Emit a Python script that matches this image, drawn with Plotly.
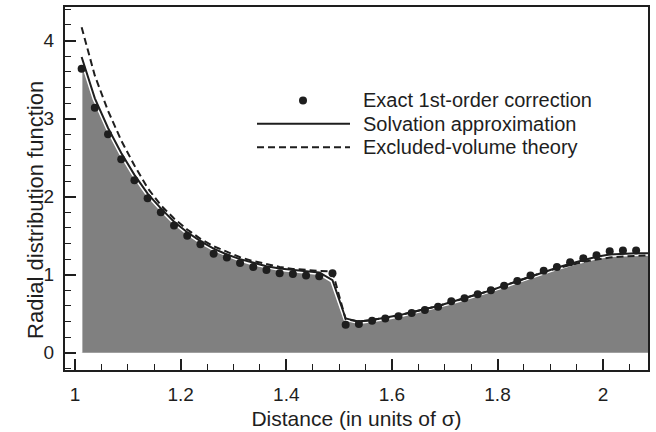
import plotly.graph_objects as go

# ---- data ----
distance = [1.0125, 1.0375, 1.0625, 1.0875, 1.1125, 1.1375, 1.1625, 1.1875, 1.2125, 1.2375,
            1.2625, 1.2875, 1.3125, 1.3375, 1.3625, 1.3875, 1.4125, 1.4375, 1.4625, 1.4875,
            1.5125, 1.5375, 1.5625, 1.5875, 1.6125, 1.6375, 1.6625, 1.6875, 1.7125, 1.7375,
            1.7625, 1.7875, 1.8125, 1.8375, 1.8625, 1.8875, 1.9125, 1.9375, 1.9625, 1.9875,
            2.0125, 2.0375, 2.0625]

exact = [3.64, 3.14, 2.80, 2.48, 2.21, 1.98, 1.80, 1.63, 1.50, 1.39,
         1.27, 1.22, 1.15, 1.10, 1.06, 1.02, 1.01, 0.99, 0.98, 1.02,
         0.36, 0.37, 0.41, 0.44, 0.47, 0.51, 0.55, 0.59, 0.66, 0.70,
         0.75, 0.80, 0.86, 0.92, 0.99, 1.05, 1.10, 1.16, 1.21, 1.25,
         1.30, 1.31, 1.31]

line_distance = distance + [2.0875]

solvation = [3.79, 3.26, 2.88, 2.56, 2.28, 2.04, 1.85, 1.68, 1.545, 1.43,
             1.335, 1.26, 1.20, 1.15, 1.11, 1.08, 1.06, 1.045, 1.03, 0.93,
             0.44, 0.40, 0.42, 0.45, 0.48, 0.52, 0.56, 0.60, 0.65, 0.70,
             0.75, 0.80, 0.86, 0.92, 0.98, 1.04, 1.09, 1.14, 1.19, 1.23,
             1.26, 1.27, 1.275, 1.275]

excluded = [4.17, 3.55, 3.10, 2.72, 2.40, 2.11, 1.89, 1.72, 1.58, 1.46,
            1.365, 1.29, 1.225, 1.175, 1.135, 1.10, 1.075, 1.06, 1.05, 1.04,
            0.43, 0.40, 0.42, 0.45, 0.48, 0.52, 0.56, 0.60, 0.65, 0.70,
            0.75, 0.80, 0.86, 0.92, 0.98, 1.035, 1.08, 1.125, 1.165, 1.195,
            1.22, 1.235, 1.245, 1.25]

legend_labels = ["Exact 1st-order correction", "Solvation approximation", "Excluded-volume theory"]
x_title = "Distance (in units of σ)"
y_title = "Radial distribution function"

FONT = "Liberation Sans, Arial, Helvetica, sans-serif"
INK = "#1e1e1e"

fig = go.Figure()

# grey area under the solvation curve
fill_x = [line_distance[0]] + line_distance + [line_distance[-1]]
fill_y = [0] + solvation + [0]
fig.add_trace(go.Scatter(x=fill_x, y=fill_y, mode="lines", fill="toself",
                         fillcolor="#808080", line=dict(color="white", width=1.5),
                         hoverinfo="skip", showlegend=False))
# white halo under the solid curve
fig.add_trace(go.Scatter(x=line_distance, y=solvation, mode="lines",
                         line=dict(color="white", width=5), hoverinfo="skip", showlegend=False))
fig.add_trace(go.Scatter(x=line_distance, y=excluded, mode="lines", name=legend_labels[2],
                         line=dict(color=INK, width=2, dash="7px,4px"), showlegend=False))
fig.add_trace(go.Scatter(x=line_distance, y=solvation, mode="lines", name=legend_labels[1],
                         line=dict(color=INK, width=2), showlegend=False))
fig.add_trace(go.Scatter(x=distance, y=exact, mode="markers", name=legend_labels[0],
                         marker=dict(color=INK, size=8), showlegend=False))

# ---- hand-built legend (paper coordinates) ----
L, R, T, B = 65, 648, 5, 370
def px(xp):
    return (xp - L) / (R - L)
def py(yp):
    return (B - yp) / (B - T)

rows_y = [99, 122.5, 146]
for lab, yy in zip(legend_labels, rows_y):
    fig.add_annotation(x=px(361), y=py(yy), xref="paper", yref="paper", text=lab,
                       showarrow=False, xanchor="left", yanchor="middle",
                       font=dict(family=FONT, size=20, color=INK))
fig.add_shape(type="circle", xref="paper", yref="paper", xsizemode="pixel", ysizemode="pixel",
              xanchor=px(303), yanchor=py(rows_y[0]), x0=-4, x1=4, y0=-4, y1=4,
              fillcolor=INK, line=dict(width=0))
fig.add_shape(type="line", xref="paper", yref="paper", x0=px(257), x1=px(350),
              y0=py(rows_y[1]), y1=py(rows_y[1]), line=dict(color=INK, width=2))
fig.add_shape(type="line", xref="paper", yref="paper", x0=px(257), x1=px(350),
              y0=py(rows_y[2]), y1=py(rows_y[2]), line=dict(color=INK, width=2, dash="7px,4px"))

# y-axis title placed as annotation to match reference position
fig.add_annotation(x=px(36), y=py(209), xref="paper", yref="paper", text=y_title,
                   showarrow=False, textangle=-90, xanchor="center", yanchor="middle",
                   font=dict(family=FONT, size=22, color=INK))

axis_common = dict(showgrid=False, zeroline=False, showline=True, linecolor=INK, linewidth=2,
                   mirror=True, ticks="inside", ticklen=11, tickwidth=1.5, tickcolor=INK,
                   tickfont=dict(family=FONT, size=19, color=INK))

fig.update_xaxes(range=[0.981, 2.085], tick0=1, dtick=0.2,
                 minor=dict(tick0=1, dtick=0.05, ticks="inside", ticklen=6, tickwidth=1.2, tickcolor=INK),
                 title=dict(text=x_title, font=dict(family=FONT, size=21, color=INK), standoff=8),
                 ticklabelstandoff=6, **axis_common)
fig.update_yaxes(range=[-0.22, 4.43], tick0=0, dtick=1,
                 minor=dict(tick0=0, dtick=0.2, ticks="inside", ticklen=6, tickwidth=1.2, tickcolor=INK),
                 ticklabelstandoff=5, **axis_common)

fig.update_layout(width=656, height=432, margin=dict(l=L, r=656 - R, t=T, b=432 - B),
                  plot_bgcolor="white", paper_bgcolor="white", showlegend=False,
                  font=dict(family=FONT, color=INK))

fig.write_html("out.html")
